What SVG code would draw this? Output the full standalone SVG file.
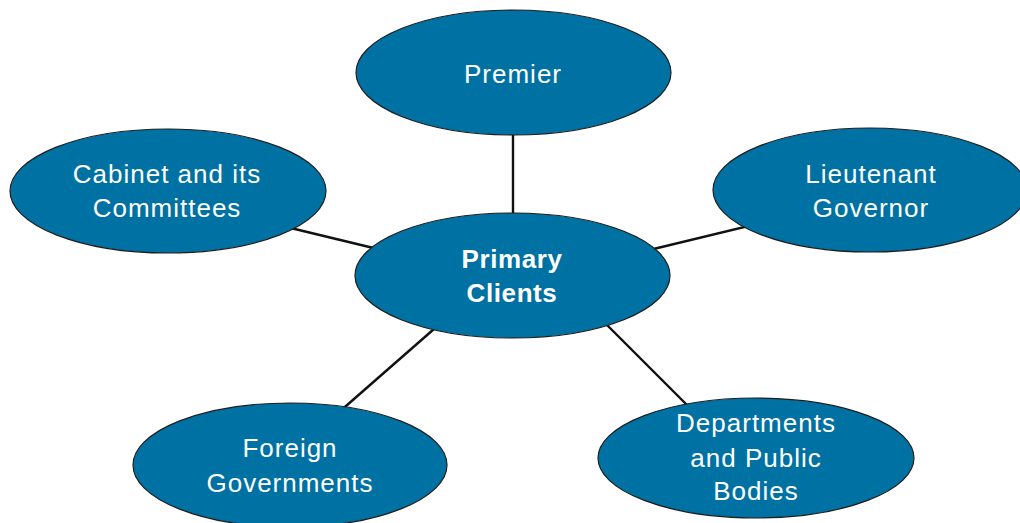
<svg xmlns="http://www.w3.org/2000/svg" width="1020" height="523" viewBox="0 0 1020 523">
  <style>
    .node ellipse { fill: #0071a3; stroke: #1e1e1e; stroke-width: 1.2; }
    .node text { fill: #ffffff; font-family: "Liberation Sans", Arial, sans-serif; font-size: 26px; letter-spacing: 1px; text-anchor: middle; }
    .node text.bold { font-weight: bold; letter-spacing: 0.6px; }
    .links line { stroke: #111111; stroke-width: 2.4; stroke-linecap: butt; }
  </style>
  <rect width="1020" height="523" fill="#ffffff"/>

  <!-- connectors, drawn beneath the ellipses -->
  <g id="connectors" class="links">
    <line x1="513" y1="120" x2="513" y2="230"/>
    <line x1="270" y1="223" x2="390" y2="252"/>
    <line x1="637" y1="253" x2="765" y2="222"/>
    <line x1="450" y1="315" x2="330" y2="420"/>
    <line x1="592" y1="310" x2="700" y2="418"/>
  </g>

  <g id="premier" class="node">
    <ellipse cx="513.5" cy="72.5" rx="157.5" ry="62.5"/>
    <text x="513" y="83">Premier</text>
  </g>

  <g id="cabinet" class="node">
    <ellipse cx="168" cy="191" rx="158" ry="62"/>
    <text x="167" y="183">Cabinet and its</text>
    <text x="167" y="217">Committees</text>
  </g>

  <g id="lieutenant-governor" class="node">
    <ellipse cx="870" cy="190" rx="157" ry="62"/>
    <text x="871" y="183">Lieutenant</text>
    <text x="871" y="217">Governor</text>
  </g>

  <g id="primary-clients" class="node">
    <ellipse cx="512.5" cy="275.5" rx="157.5" ry="62.5"/>
    <text class="bold" x="512" y="268">Primary</text>
    <text class="bold" x="512" y="302">Clients</text>
  </g>

  <g id="foreign-governments" class="node">
    <ellipse cx="290" cy="465" rx="157" ry="62"/>
    <text x="290" y="457">Foreign</text>
    <text x="290" y="492">Governments</text>
  </g>

  <g id="departments" class="node">
    <ellipse cx="756" cy="458" rx="158" ry="60"/>
    <text x="756" y="432">Departments</text>
    <text x="756" y="467">and Public</text>
    <text x="756" y="500">Bodies</text>
  </g>
</svg>
